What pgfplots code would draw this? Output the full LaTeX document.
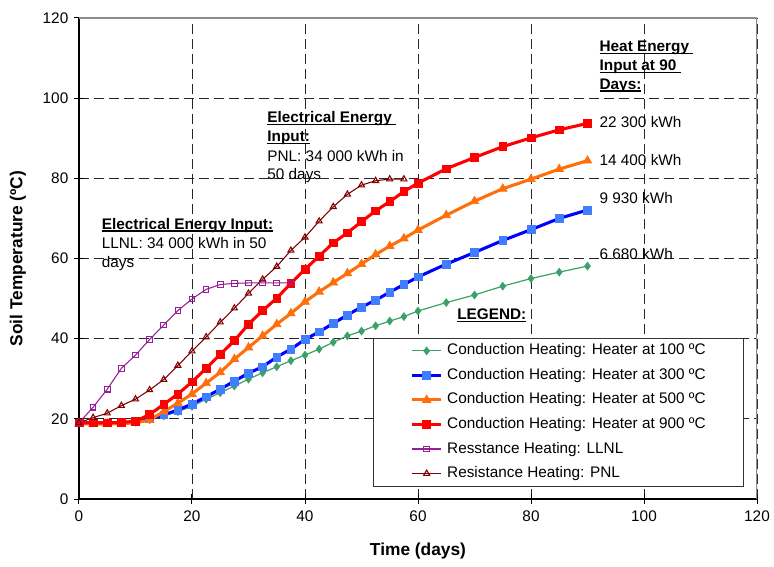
\documentclass[border=0pt]{standalone}
\usepackage{fontspec}
\setmainfont{Liberation Sans}
\usepackage{pgfplots}
\pgfplotsset{compat=1.18}
\definecolor{cgreen}{RGB}{60,160,105}
\definecolor{cblue}{RGB}{0,0,255}
\definecolor{cbluem}{RGB}{65,125,255}
\definecolor{corange}{RGB}{255,110,10}
\definecolor{cred}{RGB}{255,0,0}
\definecolor{cpurple}{RGB}{150,30,150}
\definecolor{cdred}{RGB}{128,0,0}
\newcommand\fs{\fontsize{11.5}{14}\selectfont}
\newcommand\fl{\fontsize{13}{15}\selectfont}
\newcommand\ul[1]{\setbox0\hbox{#1}\rlap{\rule[-1.7pt]{\wd0}{0.9pt}}\box0}
\newcommand\tl[3]{\node[anchor=base west, inner sep=0pt, font=\fs] at (axis cs:#1,#2) {#3};}
\begin{document}
\begin{tikzpicture}
\begin{axis}[
  name=ax,
  scale only axis, width=508.5pt, height=360.75pt,
  xmin=0, xmax=120, ymin=0, ymax=120,
  xtick={0,20,...,120}, ytick={0,20,...,120},
  axis lines=left, axis line style={-, black, line width=1pt},
  tick align=center, major tick length=7pt, tick style={black, line width=0.75pt},
  grid=major, grid style={black!85, line width=0.7pt, dash pattern=on 7.5pt off 3.75pt},
  /pgf/number format/assume math mode=true,
  ticklabel style={font=\fs},
  yticklabel style={xshift=-1pt},
  xticklabel style={yshift=-2pt},
  xlabel={Time (days)}, ylabel={Soil Temperature (ºC)},
  xlabel style={font=\bfseries\fl, at={([yshift=-39pt]axis description cs:0.5,0)}, anchor=center},
  ylabel style={font=\bfseries\fl, at={([xshift=-45.75pt]axis description cs:0,0.5)}, anchor=center},
  legend cell align=left,
  legend style={at={(axis description cs:0.4336,0.3353)}, anchor=north west,
    draw=black!80, line width=0.75pt, fill=white, font=\fs,
    inner xsep=28pt, inner ysep=4pt, row sep=7.4pt, column sep=3.5pt,
    nodes={inner sep=0pt, text height=8.5pt, text depth=2.5pt}},
  legend image code/.code={\draw[mark repeat=2,mark phase=2] plot coordinates {(0pt,0pt) (10.75pt,0pt) (21.5pt,0pt)};},
]
\addplot[cgreen, line width=0.9pt, mark=diamond*, mark size=2.6pt, mark options={solid, fill=cgreen}] coordinates {
(0,19.0)(2.5,19.0)(5,19.0)(7.5,19.0)(10,19.2)(12.5,19.8)(15,20.7)(17.5,21.8)(20,23.1)(22.5,24.9)(25,26.5)(27.5,28.2)(30,29.9)(32.5,31.5)(35,33.0)(37.5,34.5)(40,35.9)(42.5,37.4)(45,39.1)(47.5,40.7)(50,41.9)(52.5,43.2)(55,44.4)(57.5,45.5)(60,46.9)(65,49.0)(70,50.9)(75,53.1)(80,55.0)(85,56.6)(90,58.1)};
\addlegendentry{Conduction Heating: Heater at 100 ºC}
\addplot[cblue, line width=2.3pt, mark=square*, mark size=2.9pt, mark options={solid, draw=cbluem, fill=cbluem, line width=0.5pt}] coordinates {
(0,19.0)(2.5,19.0)(5,19.0)(7.5,19.0)(10,19.3)(12.5,20.0)(15,21.0)(17.5,22.2)(20,23.7)(22.5,25.5)(25,27.4)(27.5,29.4)(30,31.4)(32.5,33.0)(35,35.4)(37.5,37.4)(40,39.8)(42.5,41.7)(45,43.8)(47.5,45.9)(50,47.9)(52.5,49.6)(55,51.6)(57.5,53.5)(60,55.4)(65,58.6)(70,61.5)(75,64.5)(80,67.2)(85,70.0)(90,72.1)};
\addlegendentry{Conduction Heating: Heater at 300 ºC}
\addplot[corange, line width=2.3pt, mark=triangle*, mark size=3.7pt, mark options={solid, fill=corange, line width=0.5pt}] coordinates {
(0,18.8)(2.5,18.7)(5,18.7)(7.5,18.8)(10,19.0)(12.5,19.7)(15,21.8)(17.5,23.9)(20,26.2)(22.5,28.9)(25,31.6)(27.5,34.9)(30,37.8)(32.5,40.7)(35,43.6)(37.5,46.3)(40,49.2)(42.5,51.7)(45,54.0)(47.5,56.3)(50,58.6)(52.5,61.0)(55,63.1)(57.5,65.0)(60,67.1)(65,70.8)(70,74.3)(75,77.4)(80,79.8)(85,82.3)(90,84.4)};
\addlegendentry{Conduction Heating: Heater at 500 ºC}
\addplot[cred, line width=2.3pt, mark=square*, mark size=2.9pt, mark options={solid, fill=cred, line width=0.5pt}] coordinates {
(0,19.0)(2.5,19.0)(5,19.0)(7.5,19.1)(10,19.4)(12.5,21.1)(15,23.6)(17.5,26.2)(20,29.2)(22.5,32.6)(25,36.1)(27.5,39.5)(30,43.6)(32.5,47.0)(35,50.1)(37.5,53.8)(40,57.3)(42.5,60.6)(45,63.9)(47.5,66.4)(50,69.2)(52.5,71.9)(55,74.2)(57.5,76.7)(60,78.8)(65,82.4)(70,85.2)(75,87.9)(80,90.1)(85,92.1)(90,93.7)};
\addlegendentry{Conduction Heating: Heater at 900 ºC}
\addplot[cpurple, line width=0.8pt, mark=square, mark size=2.1pt, mark options={solid, fill=white}] coordinates {
(0,19.0)(2.5,22.9)(5,27.4)(7.5,32.6)(10,35.9)(12.5,39.8)(15,43.4)(17.5,47.0)(20,49.9)(22.5,52.3)(25,53.5)(27.5,53.8)(30,53.9)(32.5,53.9)(35,53.9)(37.5,53.9)};
\addlegendentry{Resstance Heating: LLNL}
\addplot[cdred, line width=0.8pt, mark=triangle, mark size=2.6pt, mark options={solid, fill=white}] coordinates {
(0,19.0)(2.5,20.3)(5,21.4)(7.5,23.3)(10,24.9)(12.5,27.2)(15,29.8)(17.5,33.3)(20,36.9)(22.5,40.4)(25,44.1)(27.5,47.6)(30,51.3)(32.5,54.8)(35,58.0)(37.5,62.0)(40,65.3)(42.5,69.3)(45,72.9)(47.5,76.0)(50,78.3)(52.5,79.4)(55,79.8)(57.5,79.8)};
\addlegendentry{Resistance Heating: PNL}
\draw[black!45, line width=0.8pt] (rel axis cs:0,1) -- (rel axis cs:1,1) -- (rel axis cs:1,0);
% annotations
\tl{4.0}{67.3}{\textbf{\ul{Electrical Energy Input:}}}
\tl{4.0}{62.6}{LLNL: 34 000 kWh in 50}
\tl{4.0}{57.8}{days}
\tl{33.3}{93.9}{\textbf{\ul{Electrical Energy\ }}}
\tl{33.3}{89.1}{\textbf{\ul{Input:}}}
\tl{33.3}{84.2}{PNL: 34 000 kWh in}
\tl{33.3}{79.6}{50 days}
\tl{92.1}{111.6}{\textbf{\ul{Heat Energy\ }}}
\tl{92.1}{106.9}{\textbf{\ul{Input at 90\ }}}
\tl{92.1}{102.2}{\textbf{\ul{Days:}}}
\tl{92.1}{92.7}{22 300 kWh}
\tl{92.1}{83.2}{14 400 kWh}
\tl{92.1}{73.8}{9 930 kWh}
\tl{92.1}{59.8}{6 680 kWh}
\tl{66.9}{44.7}{\textbf{\ul{LEGEND:}}}
\end{axis}
\pgfresetboundingbox
\path ([shift={(-59.25pt,-51pt)}]ax.south west) rectangle ([shift={(12.75pt,13.5pt)}]ax.north east);
\end{tikzpicture}
\end{document}
